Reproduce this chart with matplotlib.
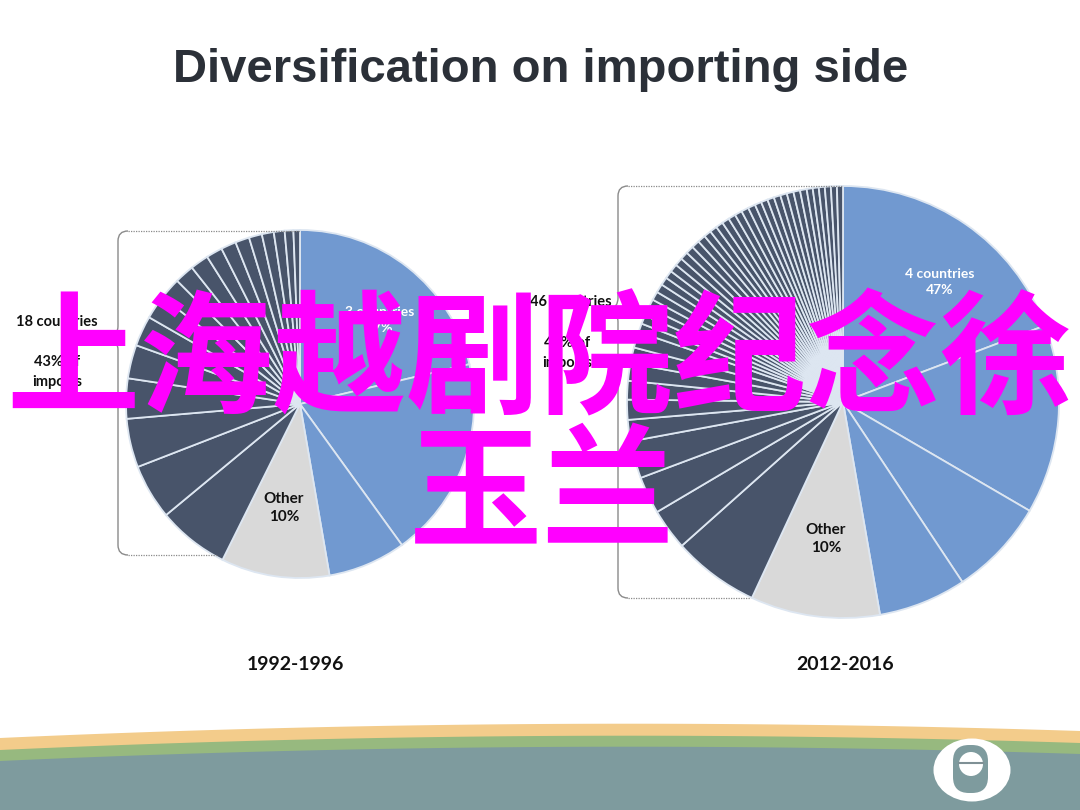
import matplotlib
matplotlib.use("Agg")
import matplotlib.pyplot as plt
import numpy as np
from matplotlib.patches import Ellipse, FancyBboxPatch, PathPatch
from matplotlib.path import Path

# ---------------- data ----------------
title = "Diversification on importing side"
periods = ["1992-1996", "2012-2016"]

left_blue = [21.2, 18.6, 7.2]
left_other = [10.0]
left_dark = [6.6, 5.1, 4.5, 3.7, 3.1, 2.8, 2.2, 2.0, 1.8, 1.7, 1.5, 1.4,
             1.3, 1.2, 1.1, 1.0, 0.8, 0.6]

right_blue = [19.3, 14.2, 7.3, 6.6]
right_other = [9.7]
right_dark = [6.5, 3.1, 2.8, 2.8, 1.6, 1.5, 1.4, 1.3, 1.2, 1.2,
              0.65, 0.65, 0.65, 0.65, 0.65, 0.65, 0.6, 0.6, 0.6, 0.6,
              0.6, 0.6, 0.6, 0.6, 0.55, 0.55, 0.55, 0.55, 0.55, 0.55,
              0.55, 0.55, 0.5, 0.5, 0.5, 0.5, 0.5, 0.5, 0.5, 0.5,
              0.45, 0.45, 0.45, 0.45, 0.45, 0.45]

top_labels = ["3 countries\n47%", "4 countries\n47%"]
other_labels = ["Other\n10%", "Other\n10%"]
side_count = ["18 countries", "46 countries"]
side_share = ["43% of\nimports", "43% of\nimports"]
overlay_line1 = "上海越剧院纪念徐"
overlay_line2 = "玉兰"

# ---------------- style ----------------
BLUE = "#7199d0"
DARK = "#48546a"
GREY = "#d9d9d9"
EDGE = "#dde6f1"
TEAL = "#7e9b9e"
W, H = 1080, 810


def Y(y):
    return H - y


fig = plt.figure(figsize=(10.8, 8.1), dpi=100)
fig.patch.set_facecolor("white")
ax = fig.add_axes([0, 0, 1, 1])

# pies
pies = [
    (left_blue, left_other, left_dark, (300, 404), 174),
    (right_blue, right_other, right_dark, (843, 402), 216),
]
for blue, other, dark, (cx, cy), r in pies:
    vals = list(blue) + list(other) + list(dark)
    cols = [BLUE] * len(blue) + [GREY] * len(other) + [DARK] * len(dark)
    ax.pie(vals, colors=cols, startangle=90, counterclock=False,
           center=(cx, Y(cy)), radius=r, frame=True,
           wedgeprops=dict(edgecolor=EDGE, linewidth=1.3))


# braces
def brace(x, ytop, ybot, ytip, xr_top, xr_bot):
    ax.plot([x + 10, xr_top], [Y(ytop), Y(ytop)], color="#8a8a8a", lw=0.9,
            ls=(0, (1, 1)))
    ax.plot([x + 10, xr_bot], [Y(ybot), Y(ybot)], color="#8a8a8a", lw=0.9,
            ls=(0, (1, 1)))
    verts = [
        (x + 10, Y(ytop)), (x, Y(ytop)), (x, Y(ytop + 10)),
        (x, Y(ytip - 12)),
        (x, Y(ytip - 3)), (x - 8, Y(ytip)),
        (x, Y(ytip + 3)), (x, Y(ytip + 12)),
        (x, Y(ybot - 10)),
        (x, Y(ybot)), (x + 10, Y(ybot)),
    ]
    codes = [Path.MOVETO, Path.CURVE3, Path.CURVE3, Path.LINETO,
             Path.CURVE3, Path.CURVE3, Path.CURVE3, Path.CURVE3,
             Path.LINETO, Path.CURVE3, Path.CURVE3]
    ax.add_patch(PathPatch(Path(verts, codes), fill=False,
                           edgecolor="#8a8a8a", lw=1.0))


brace(118, 231, 555, 338, 300, 217)
brace(618, 186, 598, 310, 843, 750)

LF = ["Lato", "DejaVu Sans"]

# labels on pies
ax.text(380, Y(320), top_labels[0], ha="center", va="center", color="white",
        fontsize=10, fontweight="bold", family=LF, linespacing=1.4)
ax.text(940, Y(282), top_labels[1], ha="center", va="center", color="white",
        fontsize=10, fontweight="bold", family=LF, linespacing=1.4)
ax.text(284, Y(508), other_labels[0], ha="center", va="center",
        color="#111111", fontsize=11, fontweight="bold", family=LF,
        linespacing=1.4)
ax.text(826, Y(539), other_labels[1], ha="center", va="center",
        color="#111111", fontsize=11, fontweight="bold", family=LF,
        linespacing=1.4)

# side labels
ax.text(57, Y(322), side_count[0], ha="center", va="center", color="#111111",
        fontsize=10.5, fontweight="bold", family=LF)
ax.text(57, Y(372), side_share[0], ha="center", va="center", color="#111111",
        fontsize=10.5, fontweight="bold", family=LF, linespacing=1.5)
ax.text(571, Y(302), side_count[1], ha="center", va="center",
        color="#111111", fontsize=10.5, fontweight="bold", family=LF)
ax.text(567, Y(353), side_share[1], ha="center", va="center",
        color="#111111", fontsize=10.5, fontweight="bold", family=LF,
        linespacing=1.5)

# period labels
ax.text(295, Y(664), periods[0], ha="center", va="center", color="#111111",
        fontsize=14, fontweight="bold", family=LF)
ax.text(845, Y(664), periods[1], ha="center", va="center", color="#111111",
        fontsize=14, fontweight="bold", family=LF)

# title
ax.text(541, Y(70), title, ha="center", va="center", color="#2b3038",
        fontsize=34, fontweight="bold",
        family=["Liberation Sans", "DejaVu Sans"])

# bottom decorative bands
xs = np.linspace(0, W, 400)


def curve(y0, ym, y1):
    c = np.polyfit([0, W / 2, W], [y0, ym, y1], 2)
    return np.polyval(c, xs)


orange = curve(738, 724, 731)
green = curve(750, 736, 743)
teal = curve(761, 747, 754)
ax.fill_between(xs, Y(orange), Y(H + 5), color="#f3cc8b", lw=0, zorder=5)
ax.fill_between(xs, Y(green), Y(H + 5), color="#97b97f", lw=0, zorder=6)
ax.fill_between(xs, Y(teal), Y(H + 5), color=TEAL, lw=0, zorder=7)

# logo
ax.add_patch(Ellipse((972, Y(770)), 77, 63, facecolor="white",
                     edgecolor="none", zorder=8))
ax.add_patch(FancyBboxPatch((953 + 16, Y(793) + 16), 35 - 32, 48 - 32,
                            boxstyle="round,pad=16", facecolor=TEAL,
                            edgecolor="none", zorder=9))
ax.add_patch(Ellipse((971, Y(764)), 24, 24, facecolor="white",
                     edgecolor="none", zorder=10))
ax.plot([959, 983], [Y(763), Y(763)], color="#7f9095", lw=1.5, zorder=11)

# overlay text
CJK = ["Noto Sans CJK SC", "DejaVu Sans"]
ax.text(540, Y(364), overlay_line1, ha="center", va="center",
        color="#ff00ff", fontsize=96, fontweight="bold", family=CJK, zorder=20)
ax.text(542, Y(497), overlay_line2, ha="center", va="center",
        color="#ff00ff", fontsize=96, fontweight="bold", family=CJK, zorder=20)

ax.set_xlim(0, W)
ax.set_ylim(0, H)
ax.set_aspect("auto")
ax.axis("off")

fig.savefig("out.png", dpi=100, facecolor="white")
